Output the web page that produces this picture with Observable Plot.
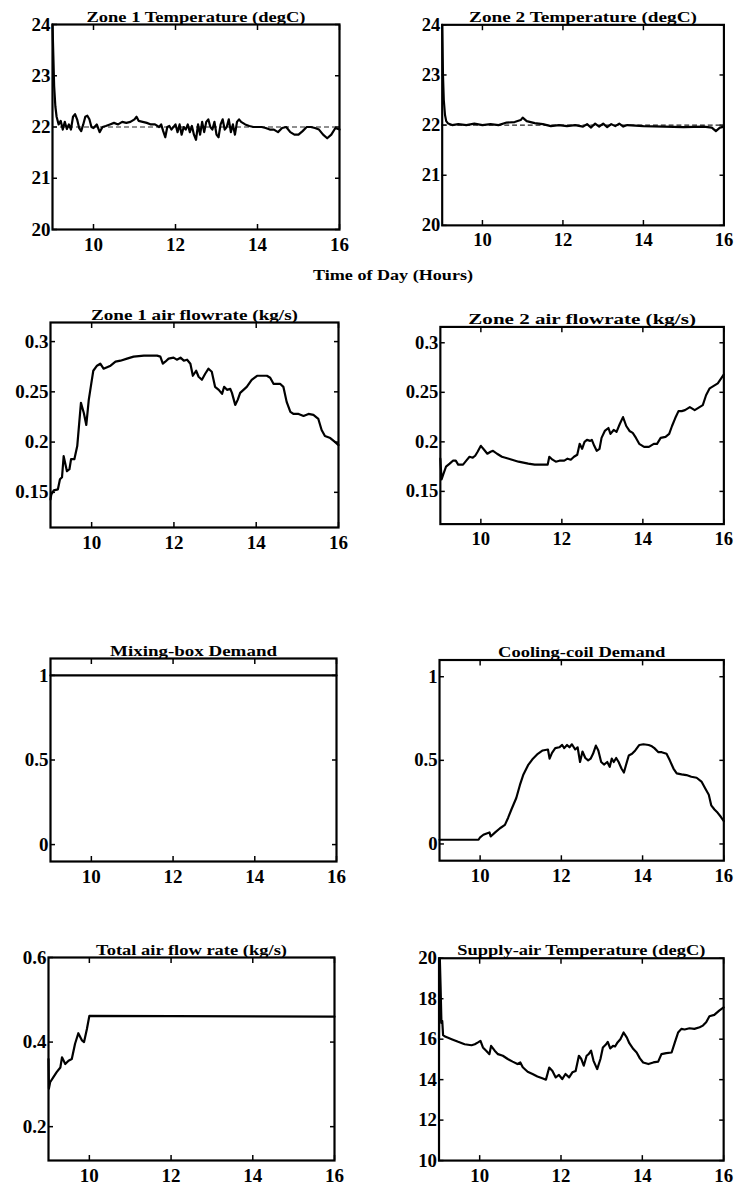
<!DOCTYPE html>
<html>
<head>
<meta charset="utf-8">
<script src="https://cdn.jsdelivr.net/npm/d3@7"></script>
<script src="https://cdn.jsdelivr.net/npm/@observablehq/plot@0.6"></script>
<style>
  body { margin: 0; background: #fff; }
  #root { position: relative; width: 743px; height: 1193px; overflow: hidden; background: #fff; }
  .panel { position: absolute; }
  .panel svg { overflow: visible; }
</style>
</head>
<body>
<div id="root"></div>
<script>
// ---------- Data (hours, value) ----------
const xTicks = [10, 12, 14, 16];

const zone1Temp = [[9.00,24.0],[9.02,23.4],[9.04,22.8],[9.07,22.4],[9.10,22.2],[9.15,22.05],[9.20,22.12],[9.25,21.95],[9.30,22.1],[9.35,21.96],[9.40,22.05],[9.45,21.95],[9.50,22.2],[9.55,22.25],[9.60,22.15],[9.65,21.98],[9.70,21.92],[9.75,22.05],[9.80,22.2],[9.85,22.22],[9.90,22.15],[9.95,22.0],[10.00,21.98],[10.08,22.05],[10.15,21.9],[10.22,22.0],[10.30,22.02],[10.40,22.05],[10.50,22.08],[10.60,22.05],[10.70,22.1],[10.80,22.08],[10.90,22.1],[11.00,22.15],[11.05,22.2],[11.10,22.12],[11.20,22.1],[11.30,22.08],[11.40,22.05],[11.50,22.05],[11.60,22.0],[11.65,22.05],[11.70,21.92],[11.75,21.8],[11.80,22.0],[11.85,22.02],[11.90,21.95],[12.00,22.05],[12.05,21.9],[12.10,22.05],[12.15,21.85],[12.20,22.0],[12.25,21.95],[12.30,22.05],[12.35,21.9],[12.40,22.02],[12.45,21.85],[12.50,21.75],[12.55,22.05],[12.60,21.85],[12.65,22.1],[12.70,21.9],[12.75,22.1],[12.80,22.15],[12.85,22.0],[12.90,21.95],[12.95,22.1],[13.00,21.85],[13.05,21.8],[13.10,22.05],[13.15,22.15],[13.20,21.95],[13.25,22.0],[13.30,22.15],[13.35,21.9],[13.40,22.05],[13.45,21.85],[13.50,22.1],[13.55,22.15],[13.60,22.1],[13.70,22.05],[13.80,22.02],[13.90,22.0],[14.00,22.0],[14.10,22.0],[14.20,21.98],[14.30,21.95],[14.40,21.95],[14.50,21.9],[14.60,21.98],[14.70,22.0],[14.80,21.9],[14.90,21.85],[15.00,21.85],[15.10,21.92],[15.20,22.0],[15.30,22.0],[15.40,21.98],[15.50,21.95],[15.60,21.85],[15.70,21.78],[15.80,21.85],[15.90,21.98],[16.00,21.95]];

const zone2Temp = [[9.00,24.0],[9.02,23.0],[9.04,22.5],[9.07,22.2],[9.10,22.08],[9.15,22.03],[9.25,22.0],[9.40,22.02],[9.60,22.0],[9.80,22.03],[10.00,22.0],[10.20,22.02],[10.40,22.0],[10.60,22.05],[10.80,22.06],[10.95,22.1],[11.00,22.15],[11.10,22.08],[11.30,22.04],[11.50,22.02],[11.70,21.98],[11.90,22.0],[12.10,21.98],[12.30,22.0],[12.50,21.97],[12.60,22.02],[12.70,21.95],[12.80,22.03],[12.90,21.97],[13.00,22.03],[13.10,21.96],[13.20,22.02],[13.30,21.98],[13.40,22.03],[13.50,21.97],[13.60,22.0],[13.80,21.99],[14.00,21.98],[14.50,21.97],[15.00,21.96],[15.50,21.97],[15.70,21.95],[15.80,21.88],[15.90,21.95],[16.00,21.97]];

const setpoint = [22];

const zone1Flow = [[9.00,0.143],[9.02,0.148],[9.08,0.152],[9.18,0.153],[9.23,0.163],[9.28,0.165],[9.32,0.186],[9.40,0.171],[9.46,0.173],[9.50,0.183],[9.58,0.183],[9.65,0.196],[9.74,0.239],[9.81,0.229],[9.87,0.217],[9.93,0.242],[9.99,0.258],[10.04,0.271],[10.13,0.276],[10.21,0.278],[10.29,0.273],[10.46,0.276],[10.58,0.280],[10.70,0.281],[10.86,0.283],[11.02,0.285],[11.27,0.286],[11.59,0.286],[11.67,0.285],[11.73,0.278],[11.79,0.280],[11.87,0.283],[11.99,0.284],[12.07,0.282],[12.16,0.284],[12.24,0.281],[12.32,0.282],[12.40,0.278],[12.46,0.266],[12.54,0.271],[12.60,0.265],[12.68,0.262],[12.76,0.268],[12.84,0.273],[12.92,0.270],[13.00,0.255],[13.09,0.252],[13.17,0.248],[13.22,0.255],[13.29,0.252],[13.37,0.253],[13.41,0.249],[13.49,0.237],[13.55,0.242],[13.61,0.249],[13.69,0.252],[13.77,0.255],[13.89,0.262],[14.02,0.266],[14.14,0.266],[14.26,0.266],[14.34,0.264],[14.42,0.258],[14.58,0.258],[14.66,0.255],[14.74,0.240],[14.83,0.230],[14.91,0.228],[15.03,0.228],[15.15,0.226],[15.27,0.228],[15.39,0.227],[15.51,0.223],[15.59,0.212],[15.67,0.206],[15.80,0.204],[15.92,0.200],[16.00,0.197]];

const zone2Flow = [[9.00,0.183],[9.03,0.162],[9.07,0.167],[9.14,0.175],[9.23,0.178],[9.31,0.181],[9.38,0.181],[9.44,0.177],[9.56,0.177],[9.64,0.181],[9.72,0.185],[9.80,0.184],[9.86,0.186],[9.92,0.190],[10.00,0.196],[10.08,0.192],[10.16,0.188],[10.24,0.190],[10.30,0.191],[10.40,0.188],[10.52,0.185],[10.69,0.183],[10.93,0.180],[11.17,0.178],[11.33,0.177],[11.57,0.177],[11.65,0.177],[11.69,0.185],[11.77,0.182],[11.85,0.180],[11.94,0.181],[12.06,0.181],[12.14,0.183],[12.22,0.182],[12.30,0.185],[12.38,0.187],[12.44,0.198],[12.50,0.193],[12.56,0.200],[12.62,0.202],[12.70,0.201],[12.74,0.202],[12.80,0.196],[12.86,0.191],[12.93,0.193],[12.98,0.204],[13.06,0.211],[13.15,0.214],[13.20,0.208],[13.28,0.212],[13.35,0.210],[13.43,0.218],[13.51,0.225],[13.59,0.216],[13.67,0.211],[13.75,0.209],[13.83,0.204],[13.91,0.198],[14.03,0.195],[14.15,0.195],[14.27,0.198],[14.35,0.198],[14.44,0.204],[14.56,0.205],[14.65,0.208],[14.72,0.216],[14.80,0.224],[14.88,0.231],[14.96,0.231],[15.04,0.232],[15.16,0.235],[15.28,0.232],[15.40,0.235],[15.48,0.237],[15.56,0.247],[15.65,0.254],[15.73,0.256],[15.85,0.259],[16.00,0.268]];

const mixingBox = [[9.00,1.0],[16.00,1.0]];

const coolingCoil = [[9.00,0.025],[9.96,0.025],[10.00,0.04],[10.08,0.055],[10.16,0.063],[10.23,0.069],[10.26,0.045],[10.37,0.069],[10.49,0.094],[10.61,0.114],[10.69,0.157],[10.77,0.206],[10.89,0.275],[10.98,0.353],[11.06,0.412],[11.18,0.471],[11.30,0.510],[11.42,0.539],[11.54,0.559],[11.67,0.565],[11.71,0.510],[11.77,0.545],[11.85,0.573],[11.95,0.578],[12.02,0.592],[12.07,0.573],[12.14,0.592],[12.20,0.578],[12.26,0.596],[12.34,0.565],[12.40,0.578],[12.46,0.490],[12.52,0.553],[12.59,0.514],[12.66,0.500],[12.72,0.510],[12.78,0.539],[12.85,0.588],[12.91,0.559],[12.98,0.490],[13.05,0.475],[13.13,0.490],[13.19,0.461],[13.24,0.510],[13.29,0.490],[13.35,0.514],[13.41,0.490],[13.48,0.451],[13.54,0.427],[13.59,0.471],[13.66,0.529],[13.74,0.539],[13.82,0.559],[13.92,0.592],[14.02,0.596],[14.15,0.592],[14.23,0.584],[14.29,0.573],[14.39,0.549],[14.47,0.549],[14.59,0.539],[14.67,0.500],[14.76,0.451],[14.84,0.422],[14.96,0.416],[15.08,0.412],[15.20,0.402],[15.33,0.396],[15.45,0.373],[15.54,0.333],[15.63,0.294],[15.69,0.231],[15.77,0.206],[15.85,0.186],[15.93,0.161],[16.00,0.137]];

const totalFlow = [[9.00,0.36],[9.01,0.29],[9.04,0.305],[9.12,0.317],[9.20,0.329],[9.29,0.340],[9.33,0.364],[9.41,0.348],[9.49,0.356],[9.57,0.360],[9.65,0.396],[9.73,0.421],[9.82,0.404],[9.87,0.400],[9.94,0.431],[10.00,0.462],[16.00,0.460]];

const supplyTemp = [[9.00,16.0],[9.02,20.0],[9.04,18.5],[9.06,16.8],[9.08,16.9],[9.10,16.2],[9.15,16.13],[9.31,16.0],[9.47,15.87],[9.63,15.75],[9.80,15.7],[9.88,15.75],[9.96,15.84],[10.02,15.92],[10.08,15.59],[10.16,15.43],[10.24,15.26],[10.28,15.67],[10.37,15.43],[10.45,15.26],[10.57,15.18],[10.69,15.02],[10.81,14.89],[10.93,14.77],[11.00,14.85],[11.06,14.61],[11.18,14.39],[11.30,14.28],[11.42,14.16],[11.54,14.07],[11.63,14.0],[11.71,14.6],[11.79,14.43],[11.87,14.11],[11.95,14.23],[12.03,14.03],[12.11,14.28],[12.20,14.11],[12.28,14.36],[12.36,14.43],[12.44,15.18],[12.50,15.02],[12.56,14.69],[12.63,15.18],[12.68,15.26],[12.74,15.43],[12.80,14.93],[12.89,14.52],[12.97,15.02],[13.03,15.59],[13.11,15.75],[13.15,15.87],[13.21,15.54],[13.28,15.67],[13.33,15.64],[13.39,15.84],[13.46,16.0],[13.54,16.33],[13.62,16.08],[13.68,15.8],[13.78,15.51],[13.86,15.34],[13.94,15.05],[14.02,14.85],[14.15,14.77],[14.27,14.85],[14.39,14.89],[14.47,15.26],[14.59,15.31],[14.72,15.34],[14.80,15.84],[14.88,16.33],[14.96,16.51],[15.04,16.48],[15.16,16.54],[15.28,16.51],[15.41,16.59],[15.49,16.67],[15.57,16.84],[15.65,17.13],[15.77,17.2],[15.89,17.41],[16.00,17.57]];

const titles = ["Zone 1 Temperature (degC)", "Zone 2 Temperature (degC)", "Zone 1 air flowrate (kg/s)", "Zone 2 air flowrate (kg/s)", "Mixing-box Demand", "Cooling-coil Demand", "Total air flow rate (kg/s)", "Supply-air Temperature (degC)"];
const xAxisTitle = "Time of Day (Hours)";

// ---------- Layout ----------
const FONT = '"Liberation Serif", "Times New Roman", serif';
const panels = [
  {box:[52,24,339,229],  title:titles[0], data:zone1Temp,  yDomain:[20,24],      yTicks:[20,21,22,23,24], ref:setpoint, tw:219},
  {box:[443,25,731,230], title:titles[1], data:zone2Temp,  yDomain:[20,24],      yTicks:[20,21,22,23,24], ref:setpoint, tw:233},
  {box:[50,322,338,527], title:titles[2], data:zone1Flow,  yDomain:[0.115,0.319], yTicks:[0.15,0.2,0.25,0.3], tw:207},
  {box:[441,327,730,528],title:titles[3], data:zone2Flow,  yDomain:[0.117,0.316], yTicks:[0.15,0.2,0.25,0.3], tw:232},
  {box:[50,658,336,861], title:titles[4], data:mixingBox,  yDomain:[-0.1,1.1],   yTicks:[0,0.5,1], tw:167},
  {box:[440,660,729,864],title:titles[5], data:coolingCoil,yDomain:[-0.1,1.1],   yTicks:[0,0.5,1], tw:170},
  {box:[48,957,334,1160],title:titles[6], data:totalFlow,  yDomain:[0.12,0.6],   yTicks:[0.2,0.4,0.6], tw:191},
  {box:[439,958,726,1162],title:titles[7],data:supplyTemp, yDomain:[10,20],      yTicks:[10,12,14,16,18,20], tw:250}
];

const root = document.getElementById("root");
const mL = 60, mR = 20, mT = 30, mB = 36;

panels.forEach(p => {
  const [l, t, r, b] = p.box;
  const width = r - l + mL + mR;
  const height = b - t + mT + mB;
  const fmt = d => String(d);
  const marks = [
    Plot.axisX(xTicks, {anchor: "bottom", tickSize: -5, tickPadding: 13, tickFormat: fmt, label: null, fontSize: 19, strokeWidth: 1.5}),
    Plot.axisX(xTicks, {anchor: "top", tickSize: -5, tickFormat: () => "", label: null, strokeWidth: 1.5}),
    Plot.axisY(p.yTicks, {anchor: "left", tickSize: -5, tickPadding: 7, tickFormat: fmt, label: null, fontSize: 19, strokeWidth: 1.5}),
    Plot.axisY(p.yTicks, {anchor: "right", tickSize: -5, tickFormat: () => "", label: null, strokeWidth: 1.5}),
  ];
  if (p.ref) marks.push(Plot.ruleY(p.ref, {strokeDasharray: "5,3", strokeWidth: 1.2, stroke: "#222"}));
  marks.push(Plot.line(p.data, {x: d => d[0], y: d => d[1], stroke: "black", strokeWidth: 2.2, curve: "linear"}));
  marks.push(Plot.frame({stroke: "black", strokeWidth: 2.2}));
  marks.push(Plot.text([p.title], {frameAnchor: "top", dy: -3, lineAnchor: "bottom", fontSize: 14, fontWeight: "bold", fill: "black"}));

  const chart = Plot.plot({
    width, height,
    marginLeft: mL, marginRight: mR, marginTop: mT, marginBottom: mB,
    x: {domain: [9, 16]},
    y: {domain: p.yDomain},
    style: {fontFamily: FONT, fontSize: "19px", fontWeight: "bold", color: "black", background: "transparent", overflow: "visible"},
    marks
  });
  // stretch the title to its measured width
  const texts = chart.querySelectorAll('g[aria-label="text"] text');
  texts.forEach(tx => { tx.setAttribute("textLength", p.tw); tx.setAttribute("lengthAdjust", "spacingAndGlyphs"); });
  const div = document.createElement("div");
  div.className = "panel";
  div.style.left = (l - mL) + "px";
  div.style.top = (t - mT) + "px";
  div.appendChild(chart);
  root.appendChild(div);
});

// shared x-axis title
const lab = d3.select(root).append("svg")
  .attr("width", 743).attr("height", 300)
  .style("position", "absolute").style("left", "0px").style("top", "0px");
lab.append("text")
  .attr("x", 393).attr("y", 280)
  .attr("text-anchor", "middle")
  .attr("textLength", 160).attr("lengthAdjust", "spacingAndGlyphs")
  .style("font-family", FONT).style("font-weight", "bold").style("font-size", "14px")
  .text(xAxisTitle);
</script>
</body>
</html>
